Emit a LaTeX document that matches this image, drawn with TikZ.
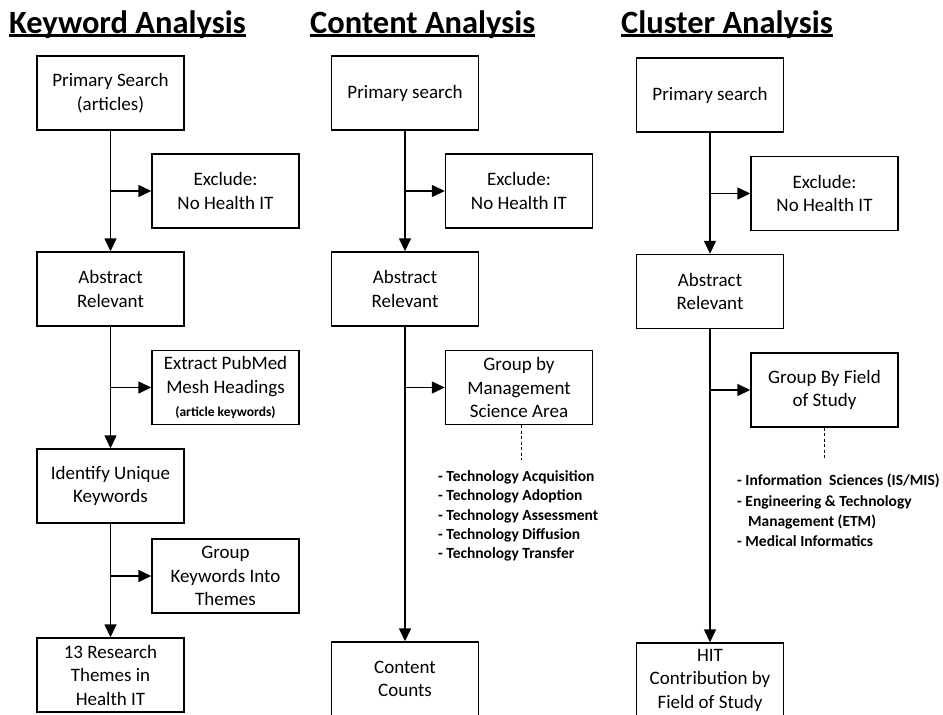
\documentclass[tikz,border=0pt]{standalone}
\usepackage{fontspec}
\setmainfont{Carlito}
\usetikzlibrary{arrows.meta}
\begin{document}
\begin{tikzpicture}[x=1pt,y=-1pt,
  box/.style={draw, line width=1.4pt, minimum width=147pt, minimum height=74pt, inner sep=0pt, align=center, font=\fontsize{19}{23.5}\selectfont},
  arr/.style={line width=1.4pt, -{Triangle[length=13pt,width=12pt]}},
  ttl/.style={anchor=base west, inner sep=0pt, font=\bfseries\fontsize{32.5}{36}\selectfont},
  ul/.style={line width=2.5pt},
  lst/.style={anchor=north west, inner sep=0pt, align=left, font=\bfseries\fontsize{15.5}{19.2}\selectfont},
  lst2/.style={lst, font=\bfseries\fontsize{15.5}{20.3}\selectfont},
  dsh/.style={line width=1pt, dash pattern=on 3pt off 2.5pt}
]
\fill[white] (0,0) rectangle (943,715);
\useasboundingbox (0,0) rectangle (943,715);

% titles
\node[ttl] (t1) at (9,33) {Keyword Analysis};
\node[ttl] (t2) at (310,33) {Content Analysis};
\node[ttl] (t3) at (621,33) {Cluster Analysis};
\foreach \t in {t1,t2,t3}
  \draw[ul] ([yshift=-2.5pt]\t.base west) -- ([yshift=-2.5pt]\t.base east);

% keyword column
\node[box] (k1) at (110.5,93) {Primary Search\\(articles)};
\node[box] (k2) at (225.5,191) {Exclude:\\No Health IT};
\node[box] (k3) at (110.5,289) {Abstract\\Relevant};
\node[box] (k4) at (225.5,387.5) {Extract PubMed\\Mesh Headings\\{\bfseries\fontsize{13.5}{16}\selectfont(article keywords)}};
\node[box] (k5) at (110.5,486) {Identify Unique\\Keywords};
\node[box] (k6) at (225.5,576) {Group\\Keywords Into\\Themes};
\node[box] (k7) at (110.5,675) {13 Research\\Themes in\\Health IT};
\draw[arr] (k1.south) -- (k3.north);
\draw[arr] (k1.south |- k2.west) -- (k2.west);
\draw[arr] (k3.south) -- (k5.north);
\draw[arr] (k3.south |- k4.west) -- (k4.west);
\draw[arr] (k5.south) -- (k7.north);
\draw[arr] (k5.south |- k6.west) -- (k6.west);

% content column
\node[box] (c1) at (405,93) {Primary search};
\node[box] (c2) at (519,191) {Exclude:\\No Health IT};
\node[box] (c3) at (405,289) {Abstract\\Relevant};
\node[box] (c4) at (519,387.5) {Group by\\Management\\Science Area};
\node[box] (c5) at (405,679) {Content\\Counts};
\draw[arr] (c1.south) -- (c3.north);
\draw[arr] (c1.south |- c2.west) -- (c2.west);
\draw[arr] (c3.south) -- (c5.north);
\draw[arr] (c3.south |- c4.west) -- (c4.west);
\coordinate (cd) at (521,460);
\draw[dsh] (c4.south -| cd) -- (cd);
\node[lst] (cl) at (438,470.5) {- Technology Acquisition\\- Technology Adoption\\- Technology Assessment\\- Technology Diffusion\\- Technology Transfer};

% cluster column
\node[box] (u1) at (710,95) {Primary search};
\node[box] (u2) at (824.5,193.5) {Exclude:\\No Health IT};
\node[box] (u3) at (710,291.5) {Abstract\\Relevant};
\node[box] (u4) at (824.5,390) {Group By Field\\of Study};
\node[box] (u5) at (710,680) {HIT\\Contribution by\\Field of Study};
\draw[arr] (u1.south) -- (u3.north);
\draw[arr] (u1.south |- u2.west) -- (u2.west);
\draw[arr] (u3.south) -- (u5.north);
\draw[arr] (u3.south |- u4.west) -- (u4.west);
\coordinate (ud) at (824,459);
\draw[dsh] (u4.south -| ud) -- (ud);
\node[lst2] (ul) at (737,474) {- Information\ \ Sciences (IS/MIS)\\- Engineering \& Technology\\\hspace*{0.7em}Management (ETM)\\- Medical Informatics};
\end{tikzpicture}
\end{document}
